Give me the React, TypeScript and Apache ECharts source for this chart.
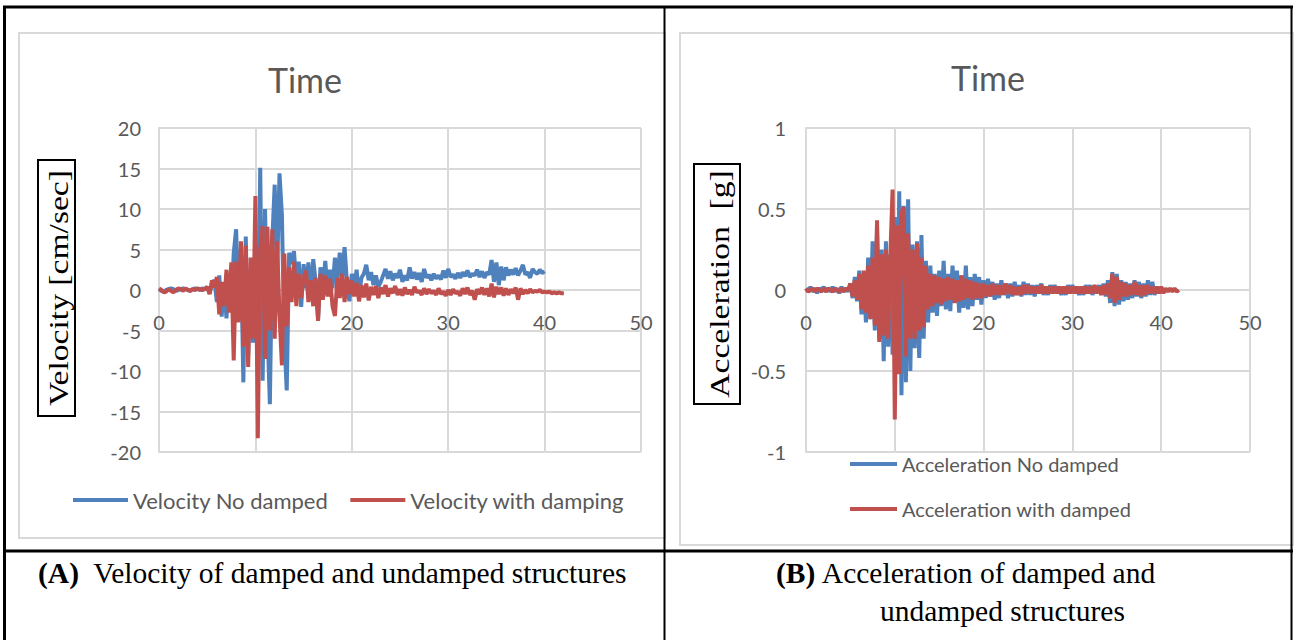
import React, { useEffect, useRef } from "react";
import * as echarts from "echarts";

// sampling step of the recorded time histories (s)
const DT = 0.25;

const xTicks = [0, 10, 20, 30, 40, 50];
const velTicks = [-20, -15, -10, -5, 0, 5, 10, 15, 20];
const accTicks = [-1, -0.5, 0, 0.5, 1];

// Velocity (cm/sec), t = 0 .. 40 s
const velocityNoDamped = [
  0.1, -0.1, -0.2, 0.0, 0.1, 0.2, 0.1, -0.1, 0.0, 0.1, 0.2, 0.1, 0.0, -0.1, 0.1, 0.2, 0.1, 0.0, 0.2, 0.1,
  0.3, -0.4, 0.8, 1.2,
  -1.5, 1.8, -3.3, 0.9,
  -3.5, 2.0, -1.8, 4.5,
  7.5, -2.0, 5.0, -11.4,
  6.6, -8.0, 2.5, -6.5,
  4.0, -9.0, 15.1, -11.2,
  10.0, -4.5, -14.1, 6.0,
  13.0, 2.0, 14.4, 9.2,
  -6.0, -12.4, 4.6, 3.2,
  4.8, 0.5, 3.5, -2.1,
  3.2, 0.2, 3.4, -1.0,
  3.8, 1.0, -3.6, 2.8,
  0.5, 3.6, -0.5, 2.5,
  0.2, 4.0, 1.0, 4.6,
  1.5, 5.3, 0.8, -1.4,
  2.0, 0.5, 2.5, -0.8,
  1.5, 2.0, 3.1, 1.2,
  2.2, 0.6, 1.8, 0.4,
  1.0, 1.8, 2.6, 1.4,
  2.3, 1.2, 2.0, 1.5,
  2.5, 1.0, 1.8, 1.2,
  2.8, 1.4, 2.2, 1.3,
  2.1, 1.0, 2.6, 1.5,
  1.9, 1.2, 2.0, 1.4,
  1.8, 1.3, 2.4, 1.5,
  2.6, 1.6, 1.9, 1.4,
  2.1, 1.5, 2.2, 1.7,
  2.4, 1.6, 2.0, 1.8,
  2.5, 1.6, 2.3, 1.5,
  2.2, 1.9, 3.7, 1.0,
  3.4, 0.6, 2.9, 1.2,
  2.8, 1.8, 2.5, 1.9,
  2.7, 1.8, 2.4, 3.1,
  1.9, 2.2, 1.5, 2.6,
  2.2, 2.0, 2.5, 2.1,
  2.3,
];

// Velocity (cm/sec), t = 0 .. 42 s
const velocityWithDamping = [
  0.2, 0.0, -0.3, -0.2, 0.1, -0.1, -0.3, 0.0, 0.2, 0.1, -0.1, 0.2, 0.0, -0.1, 0.1, 0.0, 0.2, 0.1, 0.0, 0.1,
  0.4, -0.5, 1.2, 0.3,
  1.6, -3.0, 1.0, -2.0,
  2.5, -2.8, 3.4, -8.7,
  3.5, -4.0, 6.0, -7.0,
  5.5, -9.5, 4.0, -6.0,
  11.6, -18.3, 5.0, 7.9,
  -8.5, 7.8, -5.0, 7.5,
  -6.0, 6.0, -3.0, -9.3,
  4.5, -4.5, 2.8, -1.5,
  3.5, -2.0, 2.0, -1.0,
  1.5, 2.4, -1.5, 1.2,
  -2.0, 1.5, -3.8, 2.0,
  -1.2, 1.8, -0.8, 1.4,
  -2.0, -3.2, 1.5, -1.0,
  2.0, -1.5, 1.6, -0.5,
  1.2, -0.8, 0.9, -1.4,
  0.6, -0.9, 0.8, -1.3,
  0.4, -0.6, 0.5, -1.0,
  0.3, -0.5, 0.6, -0.8,
  0.2, -0.4, 0.5, -0.6,
  0.1, -0.7, 0.3, -0.5,
  0.0, -0.6, 0.4, -0.3,
  -0.1, -0.6, 0.2, -0.5,
  0.1, -0.4, -0.1, -0.6,
  0.2, -0.5, -0.2, -0.7,
  0.0, -0.6, 0.1, -0.4,
  -0.2, -0.7, 0.2, -0.5,
  0.3, -0.6, -0.1, -1.2,
  0.1, -0.5, 0.3, -0.6,
  0.2, -0.8, 0.8, -0.9,
  0.4, -0.5, 0.3, -0.7,
  0.2, -0.6, 0.1, -0.4,
  0.3, -1.2, 0.2, -0.5,
  0.0, -0.4, 0.1, -0.3,
  -0.1, -0.2, 0.0, -0.3,
  -0.2, -0.3, -0.2, -0.4,
  -0.3, -0.4, -0.3, -0.4,
  -0.4,
];

// Acceleration (g), t = 0 .. 40 s
const accelNoDamped = [
  0.01, -0.01, 0.02, -0.01, 0.01, -0.02, 0.01, 0.0, 0.02, -0.01, 0.01, -0.01, 0.02, -0.01, 0.01, -0.02, 0.02, -0.01, 0.01, -0.01,
  0.04, -0.05, 0.08, -0.07,
  0.12, -0.15, 0.10, -0.20,
  0.20, -0.18, 0.30, -0.25,
  0.38, -0.30, 0.25, -0.44,
  0.30, -0.35, 0.22, -0.40,
  0.45, -0.48, 0.61, -0.65,
  0.52, -0.57, 0.56, -0.50,
  0.28, -0.36, 0.30, -0.42,
  0.34, -0.30, 0.18, -0.20,
  0.15, -0.14, 0.10, -0.16,
  0.12, -0.10, 0.18, -0.12,
  0.10, -0.13, 0.15, -0.08,
  0.12, -0.14, 0.09, -0.11,
  0.15, -0.12, 0.08, -0.10,
  0.10, -0.06, 0.08, -0.09,
  0.06, -0.05, 0.07, -0.04,
  0.05, -0.06, 0.04, -0.05,
  0.06, -0.03, 0.04, -0.05,
  0.04, -0.04, 0.05, -0.03,
  0.03, -0.04, 0.05, -0.03,
  0.04, -0.03, 0.03, -0.04,
  0.03, -0.02, 0.04, -0.03,
  0.02, -0.03, 0.03, -0.02,
  0.03, -0.02, 0.02, -0.03,
  0.02, -0.03, 0.03, -0.02,
  0.03, -0.02, 0.02, -0.03,
  0.02, -0.03, 0.03, -0.02,
  0.03, -0.03, 0.02, -0.02,
  0.03, -0.03, 0.04, -0.04,
  0.06, -0.08, 0.11, -0.10,
  0.10, -0.09, 0.06, -0.07,
  0.05, -0.06, 0.04, -0.05,
  0.06, -0.04, 0.05, -0.05,
  0.04, -0.04, 0.06, -0.03,
  0.05, -0.03, 0.02, -0.02,
  0.01,
];

// Acceleration (g), t = 0 .. 42 s
const accelWithDamped = [
  0.01, -0.01, 0.0, 0.01, -0.01, 0.01, 0.0, -0.01, 0.01, -0.01, 0.01, 0.0, -0.01, 0.01, 0.0, -0.01, 0.01, -0.01, 0.01, 0.0,
  0.04, -0.04, 0.06, -0.06,
  0.10, -0.12, 0.12, -0.14,
  0.15, -0.18, 0.20, -0.22,
  0.43, -0.32, 0.22, -0.28,
  0.25, -0.30, 0.22, 0.62,
  -0.80, 0.40, -0.52, 0.48,
  0.51, -0.41, 0.35, -0.30,
  0.25, -0.30, 0.29, -0.25,
  0.20, -0.23, 0.15, -0.12,
  0.10, -0.10, 0.09, -0.08,
  0.08, -0.09, 0.07, -0.07,
  0.08, -0.06, 0.07, -0.08,
  0.06, -0.07, 0.09, -0.06,
  0.07, -0.05, 0.06, -0.06,
  0.05, -0.05, 0.04, -0.05,
  0.04, -0.04, 0.03, -0.04,
  0.04, -0.03, 0.03, -0.03,
  0.03, -0.03, 0.04, -0.02,
  0.03, -0.03, 0.02, -0.03,
  0.02, -0.03, 0.03, -0.02,
  0.03, -0.02, 0.02, -0.02,
  0.02, -0.02, 0.03, -0.02,
  0.02, -0.02, 0.02, -0.02,
  0.02, -0.02, 0.02, -0.02,
  0.02, -0.02, 0.02, -0.02,
  0.02, -0.02, 0.02, -0.02,
  0.02, -0.02, 0.02, -0.02,
  0.02, -0.02, 0.03, -0.02,
  0.02, -0.03, 0.03, -0.03,
  0.04, -0.05, 0.10, -0.08,
  0.08, -0.06, 0.05, -0.04,
  0.04, -0.04, 0.03, -0.03,
  0.05, -0.03, 0.03, -0.04,
  0.03, -0.03, 0.03, -0.02,
  0.02, -0.02, 0.02, -0.02,
  0.02, -0.02, 0.01, -0.01,
  0.01, -0.01, 0.01, -0.01,
  0.0,
];

const seriesNames = {
  vNo: "Velocity No damped",
  vWith: "Velocity with damping",
  aNo: "Acceleration No damped",
  aWith: "Acceleration with damped",
};

const BLUE = "#4f81bd";
const RED = "#c0504d";
const GRID = "#d9d9d9";
const LABEL = "#595959";
const SANS = "Lato, 'Open Sans', sans-serif";
const SERIF = "'Liberation Serif', 'Times New Roman', serif";

function toPairs(vals: number[]) {
  return vals.map((v, i) => [i * DT, v]);
}

function buildOption(): echarts.EChartsOption {
  const axisLabel = { color: LABEL, fontSize: 20, fontFamily: SANS };
  const gridLine = { color: GRID, width: 2 };
  const xAxisBase = (gridIndex: number) => ({
    type: "value" as const,
    gridIndex,
    position: "bottom" as const,
    offset: -162,
    min: xTicks[0],
    max: xTicks[xTicks.length - 1],
    interval: xTicks[1] - xTicks[0],
    axisLine: { show: true, onZero: false, lineStyle: gridLine },
    axisTick: { show: false },
    axisLabel: { ...axisLabel, margin: 22 },
    splitLine: { show: true, lineStyle: gridLine },
  });
  const lineSeries = (name: string, color: string, vals: number[], idx: number) => ({
    type: "line" as const,
    name,
    xAxisIndex: idx,
    yAxisIndex: idx,
    data: toPairs(vals),
    showSymbol: false,
    symbol: "none",
    lineStyle: { color, width: 4 },
    itemStyle: { color },
    z: color === RED ? 3 : 2,
  });

  return {
    animation: false,
    title: [
      {
        text: "Time",
        left: 300,
        top: 57,
        textAlign: "center",
        textStyle: { color: LABEL, fontSize: 34, fontWeight: "normal", fontFamily: SANS },
      },
      {
        text: "Time",
        left: 983,
        top: 55,
        textAlign: "center",
        textStyle: { color: LABEL, fontSize: 34, fontWeight: "normal", fontFamily: SANS },
      },
    ],
    legend: [
      {
        data: [seriesNames.vNo, seriesNames.vWith],
        left: 73,
        top: 489,
        padding: 0,
        orient: "horizontal",
        icon: "rect",
        itemWidth: 55,
        itemHeight: 4,
        itemGap: 22,
        textStyle: { color: LABEL, fontSize: 22, fontFamily: SANS },
      },
      {
        data: [seriesNames.aNo, seriesNames.aWith],
        left: 850,
        top: 454,
        padding: 0,
        orient: "vertical",
        icon: "rect",
        itemWidth: 47,
        itemHeight: 4,
        itemGap: 25,
        textStyle: { color: LABEL, fontSize: 20, fontFamily: SANS },
      },
    ],
    grid: [
      { left: 159, right: 1294 - 641, top: 128, bottom: 640 - 452, containLabel: false },
      { left: 806, right: 1294 - 1250, top: 128, bottom: 640 - 452, containLabel: false },
    ],
    xAxis: [xAxisBase(0), xAxisBase(1)],
    yAxis: [
      {
        type: "value",
        gridIndex: 0,
        min: velTicks[0],
        max: velTicks[velTicks.length - 1],
        interval: velTicks[1] - velTicks[0],
        axisLine: { show: true, onZero: false, lineStyle: gridLine },
        axisTick: { show: false },
        axisLabel: { ...axisLabel, margin: 18 },
        splitLine: { show: true, lineStyle: gridLine },
      },
      {
        type: "value",
        gridIndex: 1,
        min: accTicks[0],
        max: accTicks[accTicks.length - 1],
        interval: accTicks[1] - accTicks[0],
        axisLine: { show: true, onZero: false, lineStyle: gridLine },
        axisTick: { show: false },
        axisLabel: { ...axisLabel, margin: 20 },
        splitLine: { show: true, lineStyle: gridLine },
      },
    ],
    series: [
      lineSeries(seriesNames.vNo, BLUE, velocityNoDamped, 0),
      lineSeries(seriesNames.vWith, RED, velocityWithDamping, 0),
      lineSeries(seriesNames.aNo, BLUE, accelNoDamped, 1),
      lineSeries(seriesNames.aWith, RED, accelWithDamped, 1),
    ],
    graphic: [
      // chart-area frames
      { type: "rect", z: -1, shape: { x: 19, y: 33, width: 646, height: 505 }, style: { fill: "none", stroke: GRID, lineWidth: 2 } },
      { type: "rect", z: -1, shape: { x: 680, y: 33, width: 614, height: 512 }, style: { fill: "none", stroke: GRID, lineWidth: 2 } },
      // boxed axis titles
      { type: "rect", shape: { x: 38, y: 160, width: 37, height: 256 }, style: { fill: "none", stroke: "#000", lineWidth: 2 } },
      {
        type: "text",
        x: 58,
        y: 288,
        rotation: Math.PI / 2,
        scaleX: 1.2,
        style: { text: "Velocity [cm/sec]", fill: "#000", font: `28px ${SERIF}`, align: "center", verticalAlign: "middle" },
      },
      { type: "rect", shape: { x: 694, y: 164, width: 46, height: 240 }, style: { fill: "none", stroke: "#000", lineWidth: 2 } },
      {
        type: "text",
        x: 719,
        y: 284,
        rotation: Math.PI / 2,
        scaleX: 1.2,
        style: { text: "Acceleration  [g]", fill: "#000", font: `28px ${SERIF}`, align: "center", verticalAlign: "middle" },
      },
      // table rules
      { type: "line", shape: { x1: 3, y1: 7, x2: 1293, y2: 7 }, style: { stroke: "#000", lineWidth: 3 } },
      { type: "line", shape: { x1: 4.5, y1: 7, x2: 4.5, y2: 640 }, style: { stroke: "#000", lineWidth: 3 } },
      { type: "line", shape: { x1: 1291.5, y1: 7, x2: 1291.5, y2: 640 }, style: { stroke: "#000", lineWidth: 2 } },
      { type: "line", shape: { x1: 664.5, y1: 7, x2: 664.5, y2: 640 }, style: { stroke: "#000", lineWidth: 2 } },
      { type: "line", shape: { x1: 3, y1: 551, x2: 1293, y2: 551 }, style: { stroke: "#000", lineWidth: 3 } },
      // captions
      {
        type: "text",
        x: 38,
        y: 573,
        style: {
          text: "{b|(A)}  Velocity of damped and undamped structures",
          fill: "#000",
          font: `29.5px ${SERIF}`,
          verticalAlign: "middle",
          rich: { b: { font: `bold 29.5px ${SERIF}`, fill: "#000" } },
        } as any,
      },
      {
        type: "text",
        x: 966,
        y: 573,
        style: {
          text: "{b|(B)} Acceleration of damped and",
          fill: "#000",
          font: `29.5px ${SERIF}`,
          align: "center",
          verticalAlign: "middle",
          rich: { b: { font: `bold 29.5px ${SERIF}`, fill: "#000" } },
        } as any,
      },
      {
        type: "text",
        x: 880,
        y: 611,
        style: { text: "undamped structures", fill: "#000", font: `29.5px ${SERIF}`, verticalAlign: "middle" },
      },
    ],
  } as echarts.EChartsOption;
}

export default function App() {
  const ref = useRef<HTMLDivElement>(null);
  useEffect(() => {
    if (!ref.current) return;
    const chart = echarts.init(ref.current, undefined, { renderer: "svg" });
    chart.setOption(buildOption());
    return () => chart.dispose();
  }, []);
  return (
    <div
      ref={ref}
      style={{ position: "fixed", left: 0, top: 0, width: 1294, height: 640, background: "#fff" }}
    />
  );
}
